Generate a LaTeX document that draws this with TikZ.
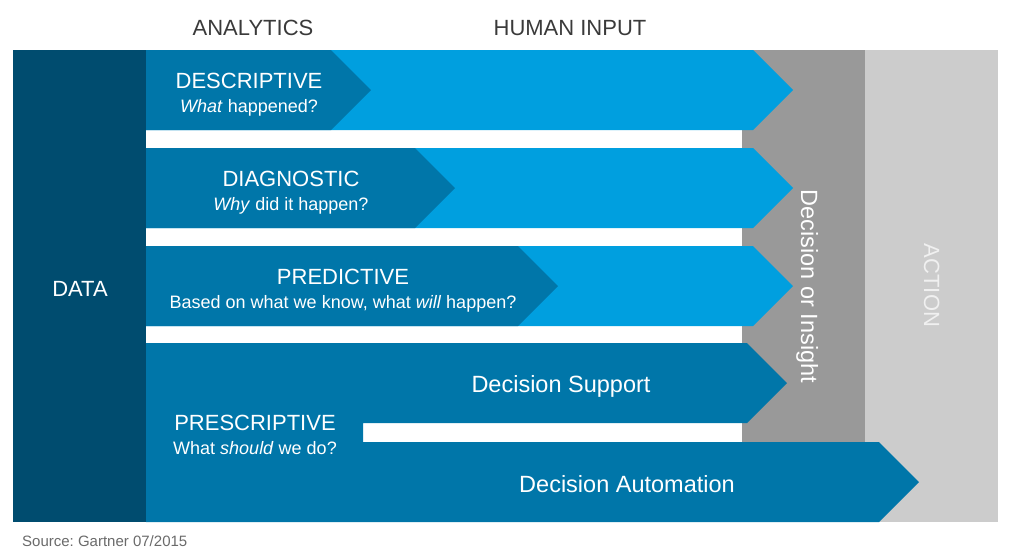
\documentclass[tikz,border=0pt]{standalone}
\usepackage{fontspec}
\setmainfont{Liberation Sans}
\frenchspacing
\definecolor{dataC}{HTML}{004C6F}
\definecolor{midC}{HTML}{0076A9}
\definecolor{lightC}{HTML}{009FDF}
\definecolor{grayC}{HTML}{999999}
\definecolor{lgrayC}{HTML}{CCCCCC}
\definecolor{headC}{HTML}{3A3A3A}
\definecolor{srcC}{HTML}{6A6A6A}
\begin{document}
\begin{tikzpicture}[x=1pt,y=-1pt,
  head/.style={text=headC,font=\fontsize{22}{26}\selectfont,anchor=base,inner sep=0pt},
  big/.style={text=white,font=\fontsize{22}{26}\selectfont,anchor=base,inner sep=0pt},
  bigger/.style={big,font=\fontsize{23.5}{28}\selectfont},
  sub/.style={text=white,font=\fontsize{18}{22}\selectfont,anchor=base,inner sep=0pt},
  src/.style={text=srcC,font=\fontsize{15}{18}\selectfont,anchor=base west,inner sep=0pt}]
\useasboundingbox (0,0) rectangle (1010,558);
% action / decision columns
\fill[lgrayC] (865,50) rectangle (998,522);
\fill[grayC] (742,50) rectangle (865,442);
% light blue arrows (human input)
\foreach \t in {50,148,246}{
  \fill[lightC] (146,\t) -- (753,\t) -- (793,\t+40) -- (753,\t+80) -- (146,\t+80) -- cycle;
}
% analytics arrows
\fill[midC] (146,50) -- (331,50) -- (371,90) -- (331,130) -- (146,130) -- cycle;
\fill[midC] (146,148) -- (415,148) -- (455,188) -- (415,228) -- (146,228) -- cycle;
\fill[midC] (146,246) -- (518,246) -- (558,286) -- (518,326) -- (146,326) -- cycle;
% prescriptive
\fill[midC] (146,343) -- (747,343) -- (787,383) -- (747,423) -- (363,423) -- (363,442)
  -- (879,442) -- (919,482) -- (879,522) -- (146,522) -- cycle;
% data column
\fill[dataC] (13,50) rectangle (146,522);
% texts
\node[head] (analytics) at (253,35) {ANALYTICS};
\node[head] (human) at (570,35) {HUMAN INPUT};
\node[big] (data) at (80,296) {DATA};
\node[big] (desc) at (249,88) {DESCRIPTIVE};
\node[sub] (descq) at (249,112) {\textit{What} happened?};
\node[big] (diag) at (291,186) {DIAGNOSTIC};
\node[sub] (diagq) at (291,210) {\textit{Why} did it happen?};
\node[big] (pred) at (343,284) {PREDICTIVE};
\node[sub] (predq) at (343,308) {Based on what we know, what \textit{will} happen?};
\node[big] (presc) at (255,430) {PRESCRIPTIVE};
\node[sub] (prescq) at (255,454) {What \textit{should} we do?};
\node[bigger] (dsupport) at (561,392) {Decision Support};
\node[bigger] (dauto) at (627,492) {Decision Automation};
\node[bigger,rotate=-90] (insight) at (801,286.5) {Decision or Insight};
\node[big,rotate=-90,text=white!94!black] (action) at (924,285.5) {ACTION};
\node[src] (source) at (22,546) {Source: Gartner 07/2015};
\end{tikzpicture}
\end{document}
